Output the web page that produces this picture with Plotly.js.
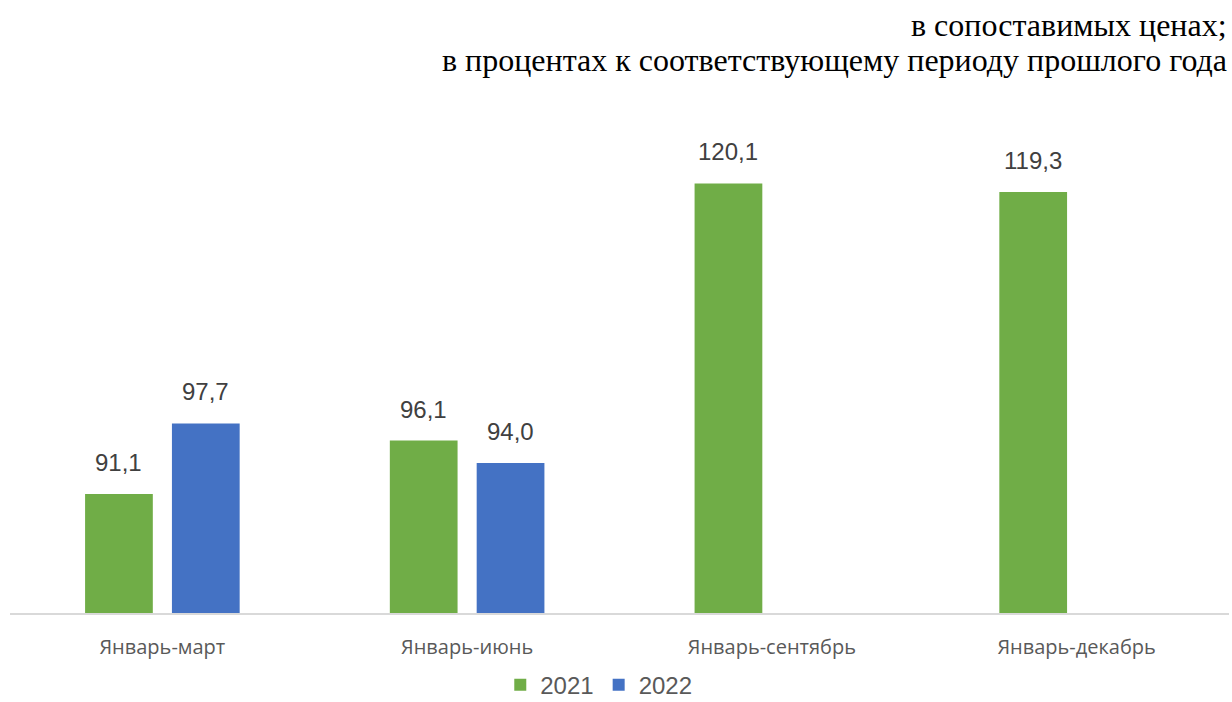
<!DOCTYPE html>
<html>
<head>
<meta charset="utf-8">
<script src="https://cdn.plot.ly/plotly-3.0.1.min.js"></script>
<style>html,body{margin:0;padding:0;background:#fff;}#chart{width:1232px;height:702px;}</style>
</head>
<body>
<div id="chart"></div>
<script>
const categories = ['Январь-март', 'Январь-июнь', 'Январь-сентябрь', 'Январь-декабрь'];
const values2021 = [91.1, 96.1, 120.1, 119.3];
const values2022 = [97.7, 94.0, null, null];
const seriesNames = ['2021', '2022'];
const titleLines = ['в сопоставимых ценах;', 'в процентах к соответствующему периоду прошлого года'];

const fmt = v => v.toFixed(1).replace('.', ',');

const traces = [
  {type: 'bar', name: seriesNames[0], x: categories, y: values2021, marker: {color: '#70ad47'}, hoverinfo: 'x+y'},
  {type: 'bar', name: seriesNames[1], x: categories, y: values2022, marker: {color: '#4472c4'}, hoverinfo: 'x+y'}
];

const annotations = [];
[[values2021, -43.5], [values2022, 43.5]].forEach(([vals, shift]) => {
  vals.forEach((v, i) => {
    if (v === null) return;
    annotations.push({
      x: categories[i], y: v, xref: 'x', yref: 'y', text: fmt(v), showarrow: false,
      xshift: shift, yanchor: 'bottom', yshift: 16,
      font: {family: 'Liberation Sans, Arial, sans-serif', size: 24, color: '#404040'}
    });
  });
});
annotations.push({xref: 'paper', yref: 'paper', x: 1, y: 1, xanchor: 'right', yanchor: 'middle', yshift: 106,
  text: titleLines[0], showarrow: false, font: {family: 'Liberation Serif, Times New Roman, serif', size: 32, color: '#000'}});
annotations.push({xref: 'paper', yref: 'paper', x: 1, y: 1, xanchor: 'right', yanchor: 'middle', yshift: 71,
  text: titleLines[1], showarrow: false, font: {family: 'Liberation Serif, Times New Roman, serif', size: 32, color: '#000'}});

const layout = {
  width: 1232, height: 702,
  margin: {l: 10, r: 3, t: 131, b: 89},
  paper_bgcolor: '#fff', plot_bgcolor: '#fff',
  barmode: 'group', bargap: 0.43, bargroupgap: 0.22,
  xaxis: {
    type: 'category', showline: true, linecolor: '#d9d9d9', linewidth: 1.5, showgrid: false,
    ticks: '', ticklabelstandoff: 15, automargin: false,
    tickfont: {family: 'Open Sans, Noto Sans, sans-serif', size: 20, color: '#595959'}
  },
  yaxis: {range: [80, 125], visible: false, showgrid: false, zeroline: false, automargin: false},
  showlegend: true,
  legend: {orientation: 'h', x: 0.483, xanchor: 'center', yref: 'container', y: 0.024, yanchor: 'middle',
    font: {family: 'Liberation Sans, Arial, sans-serif', size: 24, color: '#595959'}, itemwidth: 30},
  annotations: annotations
};

Plotly.newPlot('chart', traces, layout, {displayModeBar: false});
</script>
</body>
</html>
